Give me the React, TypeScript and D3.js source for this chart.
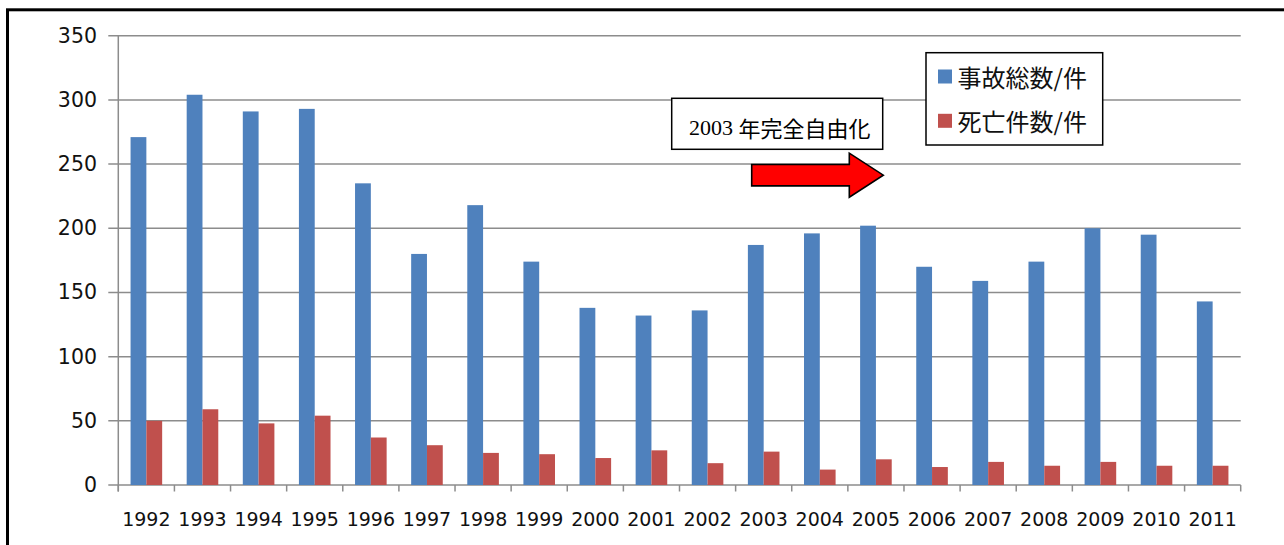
import React from 'react';
import * as d3 from 'd3';

// Years on the category axis
const years = [
  '1992', '1993', '1994', '1995', '1996', '1997', '1998', '1999', '2000', '2001',
  '2002', '2003', '2004', '2005', '2006', '2007', '2008', '2009', '2010', '2011',
];

// 事故総数 (total accidents) per year
const totalAccidents = [
  271, 304, 291, 293, 235, 180, 218, 174, 138, 132,
  136, 187, 196, 202, 170, 159, 174, 200, 195, 143,
];

// 死亡件数 (fatal accidents) per year
const fatalAccidents = [
  50, 59, 48, 54, 37, 31, 25, 24, 21, 27,
  17, 26, 12, 20, 14, 18, 15, 18, 15, 15,
];

const yTickValues = [0, 50, 100, 150, 200, 250, 300, 350];
const seriesKeys = ['total', 'fatal'];
const seriesNames = ['事故総数/件', '死亡件数/件'];
const seriesColors = ['#4F81BD', '#C0504D'];

const noteYear = '2003';
const noteText = '年完全自由化';

export default function App() {
  const W = 1284;
  const H = 545;
  const left = 118.3;
  const right = 1240.7;
  const top = 35.7;
  const bottom = 485;

  const pad = 0.437;
  const x = d3
    .scaleBand<string>()
    .domain(years)
    .range([left, right])
    .paddingInner(pad)
    .paddingOuter(pad / 2);
  const x1 = d3.scaleBand<string>().domain(seriesKeys).range([0, x.bandwidth()]);
  const y = d3.scaleLinear().domain([0, 350]).range([bottom, top]);

  const step = x.step();
  const boundaries = d3.range(years.length + 1).map((i) => left + i * step);

  const rows = years.map((yr, i) => ({
    year: yr,
    values: [totalAccidents[i], fatalAccidents[i]],
  }));

  const gridColor = '#8c8c8c';
  const labelColor = '#111';
  const latin = 'DejaVu Sans, Verdana, sans-serif';
  const cjk = '"Noto Sans CJK JP", "Noto Sans CJK SC", sans-serif';

  // Block arrow geometry
  const ax0 = 751.7;
  const axNeck = 849.3;
  const axTip = 883.3;
  const ayMid = 175.2;
  const bodyHalf = 10.7;
  const headHalf = 22;
  const arrowPath = d3.path();
  arrowPath.moveTo(ax0, ayMid - bodyHalf);
  arrowPath.lineTo(axNeck, ayMid - bodyHalf);
  arrowPath.lineTo(axNeck, ayMid - headHalf);
  arrowPath.lineTo(axTip, ayMid);
  arrowPath.lineTo(axNeck, ayMid + headHalf);
  arrowPath.lineTo(axNeck, ayMid + bodyHalf);
  arrowPath.lineTo(ax0, ayMid + bodyHalf);
  arrowPath.closePath();

  return (
    <svg
      width={W}
      height={H}
      viewBox={`0 0 ${W} ${H}`}
      style={{ position: 'absolute', left: 0, top: 0, display: 'block', background: '#fff' }}
    >
      <rect x={0} y={0} width={W} height={H} fill="#fff" />
      {/* outer frame (left and top edges visible) */}
      <rect x={7.5} y={9.8} width={W + 20} height={H + 20} fill="none" stroke="#000" strokeWidth={3} />

      {/* horizontal gridlines */}
      {yTickValues.map((v) => (
        <line
          key={`g${v}`}
          x1={left - 10}
          x2={right}
          y1={y(v)}
          y2={y(v)}
          stroke={gridColor}
          strokeWidth={1.5}
        />
      ))}

      {/* value axis */}
      <line x1={left} x2={left} y1={top} y2={bottom + 6.5} stroke={gridColor} strokeWidth={1.5} />

      {/* category tick marks */}
      {boundaries.map((bx, i) => (
        <line key={`t${i}`} x1={bx} x2={bx} y1={bottom} y2={bottom + 6.5} stroke={gridColor} strokeWidth={1.5} />
      ))}

      {/* bars */}
      {rows.map((r) => (
        <g key={r.year} transform={`translate(${x(r.year)},0)`}>
          {r.values.map((v, k) => (
            <rect
              key={seriesKeys[k]}
              x={x1(seriesKeys[k])}
              y={y(v)}
              width={x1.bandwidth()}
              height={y(0) - y(v)}
              fill={seriesColors[k]}
            />
          ))}
        </g>
      ))}

      {/* y tick labels */}
      {yTickValues.map((v) => (
        <text
          key={`yl${v}`}
          x={97}
          y={y(v)}
          textAnchor="end"
          dominantBaseline="central"
          fontFamily={latin}
          fontSize={20.5}
          fill={labelColor}
        >
          {v}
        </text>
      ))}

      {/* x tick labels */}
      {years.map((yr) => (
        <text
          key={`xl${yr}`}
          x={(x(yr) as number) + x.bandwidth() / 2}
          y={518.5}
          textAnchor="middle"
          dominantBaseline="central"
          fontFamily={latin}
          fontSize={19}
          fill={labelColor}
        >
          {yr}
        </text>
      ))}

      {/* annotation box */}
      <rect x={671.7} y={98.3} width={211} height={51} fill="#fff" stroke="#000" strokeWidth={1.5} />
      <text x={689} y={126.5} dominantBaseline="central" fontSize={22} fill="#000">
        <tspan fontFamily='"Liberation Serif", "Times New Roman", serif'>{noteYear} </tspan>
        <tspan fontFamily={cjk}>{noteText}</tspan>
      </text>

      {/* arrow */}
      <path d={arrowPath.toString()} fill="#FF0000" stroke="#000" strokeWidth={1.6} strokeLinejoin="miter" />

      {/* legend */}
      <rect x={926} y={52.7} width={176.7} height={92.3} fill="#fff" stroke="#000" strokeWidth={1.5} />
      {seriesNames.map((name, k) => (
        <g key={name}>
          <rect x={938} y={69.5 + k * 44.3} width={14} height={14} fill={seriesColors[k]} />
          <text
            x={957.5}
            y={76.5 + k * 44.3}
            dominantBaseline="central"
            fontFamily={cjk}
            fontSize={24}
            fill="#111"
          >
            {name}
          </text>
        </g>
      ))}
    </svg>
  );
}
